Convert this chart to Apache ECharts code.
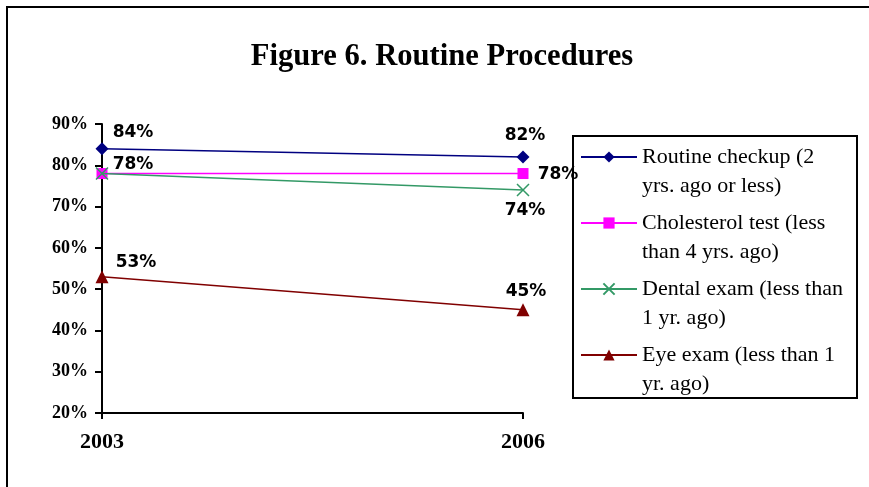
<!DOCTYPE html>
<html>
<head>
<meta charset="utf-8">
<script src="https://cdn.jsdelivr.net/npm/echarts@6/dist/echarts.min.js"></script>
<style>
html,body{margin:0;padding:0;background:#fff;}
#chart{width:869px;height:487px;}
</style>
</head>
<body>
<div id="chart"></div>
<script>
const categories = ['2003', '2006'];
const routineCheckup = [84, 82];
const cholesterolTest = [78, 78];
const dentalExam = [78, 74];
const eyeExam = [53, 45];
const seriesNames = [
  'Routine checkup (2\nyrs. ago or less)',
  'Cholesterol test (less\nthan 4 yrs. ago)',
  'Dental exam (less than\n1 yr. ago)',
  'Eye exam (less than 1\nyr. ago)'
];
const yTicks = [20, 90, 10]; // min, max, step

const serif = '"Liberation Serif", "Times New Roman", serif';
const sans = '"DejaVu Sans", "Liberation Sans", Arial, sans-serif';

const labelBase = {
  show: true, position: 'inside', formatter: '{c}%',
  color: '#000', fontFamily: sans, fontWeight: 'bold', fontSize: 17
};
// per-point label offsets [dx, dy] (null = no label)
const labelOffsets = [
  [[31, -16], [2, -21]],
  [[31, -9], [35, 1.5]],
  [null, [2, 21]],
  [[34, -14], [3, -18]]
];
function buildData(values, offsets) {
  return values.map((v, i) => ({
    value: v,
    label: offsets[i] ? Object.assign({}, labelBase, {offset: offsets[i]}) : {show: false}
  }));
}

const colors = ['#000080', '#FF00FF', '#339966', '#800000'];
const symbols = ['diamond', 'rect', 'path://M0,0L10,10M10,0L0,10', 'triangle'];
const symbolSizes = [13, 11, 12, 13];
const valuesList = [routineCheckup, cholesterolTest, dentalExam, eyeExam];

const series = valuesList.map((vals, k) => ({
  name: seriesNames[k],
  type: 'line',
  data: buildData(vals, labelOffsets[k]),
  symbol: symbols[k],
  symbolSize: symbolSizes[k],
  showAllSymbol: true,
  lineStyle: {color: colors[k], width: 1.5},
  itemStyle: k === 2
    ? {color: 'rgba(0,0,0,0)', borderColor: colors[k], borderWidth: 1.5}
    : {color: colors[k], borderWidth: 0},
  emphasis: {disabled: true},
  z: 3 + k
}));

const chart = echarts.init(document.getElementById('chart'), null, {renderer: 'canvas'});
chart.setOption({
  animation: false,
  backgroundColor: '#fff',
  title: {
    text: 'Figure 6. Routine Procedures',
    left: 437,
    textAlign: 'center',
    top: 37,
    textStyle: {fontFamily: serif, fontWeight: 'bold', fontSize: 30.6, color: '#000'}
  },
  grid: {left: 102, right: 346, top: 124, bottom: 74, containLabel: false},
  xAxis: {
    type: 'category',
    data: categories,
    boundaryGap: false,
    axisLine: {lineStyle: {color: '#000', width: 2}},
    axisTick: {show: true, length: 6, lineStyle: {color: '#000', width: 2}},
    axisLabel: {fontFamily: serif, fontWeight: 'bold', fontSize: 22, color: '#000', margin: 18}
  },
  yAxis: {
    type: 'value',
    min: yTicks[0], max: yTicks[1], interval: yTicks[2],
    axisLine: {show: true, lineStyle: {color: '#000', width: 2}},
    axisTick: {show: true, length: 7, lineStyle: {color: '#000', width: 2}},
    splitLine: {show: false},
    axisLabel: {formatter: '{value}%', fontFamily: serif, fontWeight: 'bold', fontSize: 18, color: '#000', margin: 14}
  },
  legend: {
    orient: 'vertical',
    left: 580,
    top: 113.5,
    padding: 0,
    itemWidth: 56,
    itemHeight: 14,
    itemGap: -21,
    data: seriesNames,
    formatter: name => '\n' + name,
    textStyle: {fontFamily: serif, fontSize: 22, color: '#000', lineHeight: 29}
  },
  graphic: [
    {type: 'rect', shape: {x: 7, y: 7, width: 950, height: 600}, style: {fill: 'none', stroke: '#000', lineWidth: 2}, silent: true},
    {type: 'rect', shape: {x: 573, y: 136, width: 284, height: 262}, style: {fill: 'none', stroke: '#000', lineWidth: 2}, silent: true}
  ],
  series: series
});
</script>
</body>
</html>
